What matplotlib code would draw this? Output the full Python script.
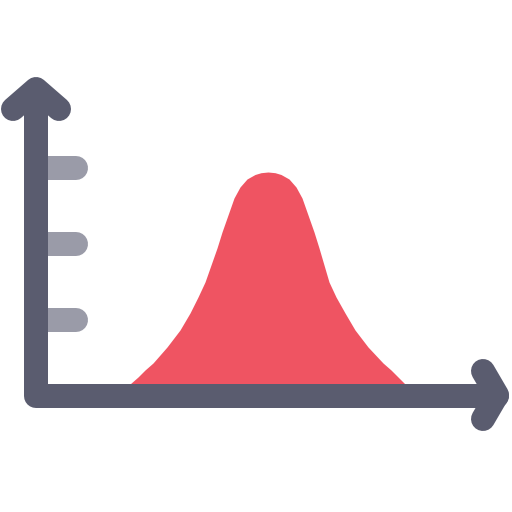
import numpy as np
import matplotlib.pyplot as plt

# bell curve outline (x, y in pixel coordinates, y downward)
curve_x = [130, 138, 145, 153, 167, 180, 190, 198, 205, 211, 217, 222, 228, 234,
           240, 247, 255, 261, 268, 275, 281, 289, 296, 302, 308, 314, 319, 324,
           329, 336, 345, 355, 368, 383, 391, 398, 405]
curve_y = [384, 377, 370, 363, 347, 330, 313, 297, 282, 265, 248, 232, 215, 198,
           187, 179, 174.5, 172.7, 172, 172.7, 174.5, 179, 187, 198, 215, 232, 248, 265,
           282, 297, 313, 330, 347, 363, 370, 377, 384]
baseline_y = 396

# tick marks on the vertical axis
tick_y = [168, 244, 320]

dark = '#5a5c6f'
grey = '#9a9ba8'
red = '#ef5462'

fig = plt.figure(figsize=(5.12, 5.12), dpi=100)
ax = fig.add_axes([0, 0, 1, 1])
ax.set_xlim(0, 512)
ax.set_ylim(512, 0)
ax.axis('off')

lw = 24 * 72 / 100  # 24 px stroke

ax.fill_between(curve_x, curve_y, baseline_y, color=red, lw=0, zorder=1)

for ty in tick_y:
    ax.plot([36, 76], [ty, ty], color=grey, lw=lw, solid_capstyle='round', zorder=2)

# axes as one polyline with rounded corner
ax.plot([36, 36, 497], [92, 396, 396], color=dark, lw=lw,
        solid_capstyle='round', solid_joinstyle='round', zorder=3)
# arrow heads
ax.plot([13, 36, 59], [109, 89, 109], color=dark, lw=lw,
        solid_capstyle='round', solid_joinstyle='round', zorder=3)
ax.plot([483, 497, 483], [371, 395, 419], color=dark, lw=lw,
        solid_capstyle='round', solid_joinstyle='round', zorder=3)

fig.savefig('out.png', dpi=100)
